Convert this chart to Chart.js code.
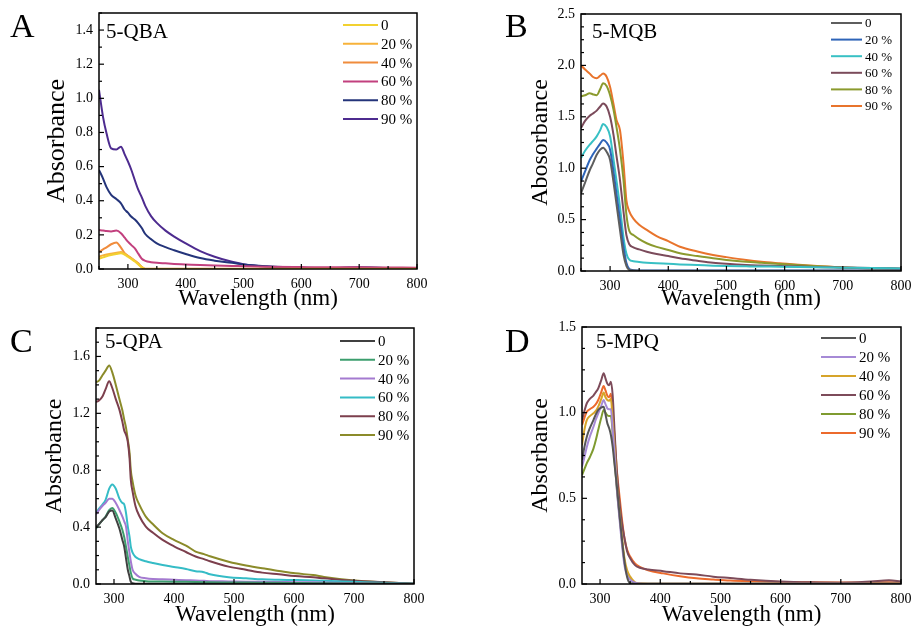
<!DOCTYPE html>
<html>
<head>
<meta charset="utf-8">
<script src="https://cdn.jsdelivr.net/npm/chart.js@4.4.1/dist/chart.umd.min.js"></script>
<style>
  html, body { margin: 0; padding: 0; background: #fff; }
  .panel { position: absolute; }
</style>
</head>
<body>
<div class="panel" style="left:0;top:0;width:456px;height:315px"><canvas id="chartA"></canvas></div>
<div class="panel" style="left:456px;top:0;width:457px;height:315px"><canvas id="chartB"></canvas></div>
<div class="panel" style="left:0;top:315px;width:456px;height:315px"><canvas id="chartC"></canvas></div>
<div class="panel" style="left:456px;top:315px;width:457px;height:315px"><canvas id="chartD"></canvas></div>
<script>
const FONT = "'Liberation Serif', 'Times New Roman', serif";
const seriesLabels = ['0', '20 %', '40 %', '60 %', '80 %', '90 %'];

/* ---------- A : 5-QBA ---------- */
const wlA = [250, 257, 263, 271, 280, 288, 294, 300, 306, 312, 318, 324, 330, 340, 350, 365, 380, 400, 425, 450, 480, 500, 540, 600, 650, 700, 750, 800];
const a0  = [0.06, 0.068, 0.075, 0.082, 0.088, 0.092, 0.085, 0.072, 0.058, 0.044, 0.027, 0.01, 0, 0, 0, 0, 0, 0, 0, 0, 0, 0, 0, 0, 0, 0, 0, 0];
const a20 = [0.072, 0.08, 0.085, 0.09, 0.095, 0.1, 0.09, 0.077, 0.063, 0.048, 0.03, 0.012, 0, 0, 0, 0, 0, 0, 0, 0, 0, 0, 0, 0, 0, 0, 0, 0];
const a40 = [0.1, 0.115, 0.127, 0.145, 0.155, 0.125, 0.095, 0.078, 0.063, 0.048, 0.033, 0.012, 0.001, 0.001, 0.001, 0.001, 0.001, 0.001, 0.001, 0.001, 0.001, 0.001, 0.001, 0.001, 0.001, 0.001, 0.001, 0.001];
const a60 = [0.228, 0.225, 0.222, 0.22, 0.225, 0.21, 0.185, 0.16, 0.14, 0.121, 0.09, 0.06, 0.048, 0.04, 0.036, 0.033, 0.03, 0.027, 0.023, 0.02, 0.018, 0.016, 0.013, 0.011, 0.01, 0.01, 0.009, 0.008];
const a80 = [0.58, 0.53, 0.48, 0.435, 0.41, 0.385, 0.35, 0.33, 0.306, 0.29, 0.268, 0.24, 0.205, 0.175, 0.15, 0.128, 0.11, 0.088, 0.064, 0.049, 0.036, 0.026, 0.016, 0.008, 0.006, 0.008, 0.006, 0.005];
const a90 = [1.05, 0.89, 0.795, 0.707, 0.70, 0.717, 0.675, 0.63, 0.58, 0.52, 0.463, 0.42, 0.37, 0.31, 0.27, 0.225, 0.19, 0.15, 0.105, 0.072, 0.042, 0.028, 0.014, 0.008, 0.006, 0.01, 0.006, 0.005];
const xTicksA = [300, 400, 500, 600, 700, 800];
const yTicksA = [0, 0.2, 0.4, 0.6, 0.8, 1.0, 1.2, 1.4];
const colorsA = ['#f2d130', '#f7b23a', '#f08c3c', '#c2407e', '#24347a', '#4d2b8f'];

/* ---------- B : 5-MQB ---------- */
const wlB = [250, 257, 265, 270, 277, 283, 288, 294, 300, 306, 311, 317, 323, 328, 333, 340, 350, 363, 380, 400, 420, 450, 477, 500, 534, 560, 592, 650, 700, 750, 800];
const b0  = [0.756, 0.86, 0.98, 1.04, 1.13, 1.18, 1.2, 1.16, 1.08, 0.86, 0.65, 0.40, 0.16, 0.05, 0.01, 0.005, 0.003, 0.003, 0.003, 0.003, 0.003, 0.003, 0.003, 0.003, 0.003, 0.003, 0.003, 0.003, 0.003, 0.003, 0.003];
const b20 = [0.87, 0.97, 1.08, 1.13, 1.19, 1.24, 1.274, 1.25, 1.18, 0.96, 0.75, 0.50, 0.24, 0.08, 0.02, 0.008, 0.005, 0.005, 0.005, 0.005, 0.005, 0.005, 0.005, 0.005, 0.005, 0.005, 0.005, 0.005, 0.005, 0.005, 0.005];
const b40 = [1.10, 1.17, 1.23, 1.26, 1.31, 1.37, 1.43, 1.40, 1.31, 1.08, 0.88, 0.625, 0.33, 0.17, 0.11, 0.095, 0.088, 0.081, 0.075, 0.07, 0.064, 0.058, 0.052, 0.048, 0.045, 0.043, 0.042, 0.036, 0.032, 0.028, 0.025];
const b60 = [1.39, 1.46, 1.51, 1.53, 1.56, 1.6, 1.63, 1.6, 1.5, 1.32, 1.12, 0.885, 0.58, 0.35, 0.26, 0.23, 0.21, 0.188, 0.165, 0.145, 0.123, 0.1, 0.081, 0.07, 0.058, 0.053, 0.048, 0.04, 0.033, 0.028, 0.025];
const b80 = [1.70, 1.71, 1.73, 1.72, 1.71, 1.77, 1.826, 1.80, 1.71, 1.566, 1.40, 1.18, 0.885, 0.55, 0.39, 0.35, 0.31, 0.27, 0.235, 0.205, 0.172, 0.145, 0.123, 0.108, 0.09, 0.08, 0.068, 0.048, 0.035, 0.025, 0.02];
const b90 = [2.0, 1.96, 1.92, 1.89, 1.875, 1.9, 1.92, 1.89, 1.79, 1.62, 1.47, 1.37, 1.05, 0.69, 0.58, 0.51, 0.45, 0.40, 0.34, 0.29, 0.236, 0.19, 0.156, 0.135, 0.107, 0.09, 0.075, 0.05, 0.035, 0.025, 0.02];
const xTicksB = [300, 400, 500, 600, 700, 800];
const yTicksB = [0, 0.5, 1.0, 1.5, 2.0, 2.5];
const colorsB = ['#5e5e5e', '#2e64b8', '#38c0c4', '#7b4b5b', '#8b9a2e', '#e8742c'];

/* ---------- C : 5-QPA ---------- */
const wlC = [270, 275, 281, 286, 292, 297, 303, 309, 314, 317, 320, 323, 326, 328, 331, 336, 342, 353, 365, 381, 400, 420, 436, 450, 460, 491, 520, 547, 575, 602, 632, 650, 700, 750, 800];
const c0  = [0.40, 0.42, 0.45, 0.47, 0.51, 0.517, 0.46, 0.39, 0.31, 0.263, 0.18, 0.1, 0.05, 0.016, 0.005, 0.002, 0.002, 0.002, 0.002, 0.002, 0.002, 0.002, 0.002, 0.002, 0.002, 0.002, 0.002, 0.002, 0.002, 0.002, 0.002, 0.002, 0.002, 0.002, 0.002];
const c20 = [0.39, 0.42, 0.45, 0.474, 0.52, 0.535, 0.5, 0.44, 0.38, 0.33, 0.263, 0.19, 0.122, 0.08, 0.04, 0.03, 0.024, 0.02, 0.018, 0.017, 0.016, 0.015, 0.014, 0.013, 0.012, 0.011, 0.01, 0.009, 0.008, 0.007, 0.006, 0.005, 0.004, 0.003, 0.002];
const c40 = [0.49, 0.52, 0.55, 0.57, 0.6, 0.6, 0.57, 0.52, 0.474, 0.44, 0.404, 0.3, 0.216, 0.16, 0.10, 0.07, 0.05, 0.04, 0.035, 0.033, 0.03, 0.027, 0.024, 0.022, 0.02, 0.018, 0.016, 0.015, 0.014, 0.013, 0.012, 0.01, 0.007, 0.004, 0.002];
const c60 = [0.50, 0.53, 0.56, 0.592, 0.67, 0.70, 0.67, 0.60, 0.57, 0.56, 0.50, 0.404, 0.33, 0.263, 0.22, 0.19, 0.175, 0.16, 0.148, 0.134, 0.12, 0.105, 0.09, 0.083, 0.068, 0.047, 0.04, 0.033, 0.03, 0.028, 0.025, 0.022, 0.015, 0.008, 0.002];
const c80 = [1.28, 1.29, 1.32, 1.37, 1.426, 1.38, 1.30, 1.226, 1.14, 1.08, 1.05, 1.0, 0.88, 0.733, 0.65, 0.545, 0.48, 0.404, 0.36, 0.31, 0.265, 0.225, 0.193, 0.175, 0.16, 0.122, 0.10, 0.08, 0.068, 0.056, 0.047, 0.04, 0.022, 0.012, 0.002];
const c90 = [1.42, 1.43, 1.47, 1.50, 1.536, 1.49, 1.40, 1.30, 1.22, 1.156, 1.10, 1.015, 0.92, 0.80, 0.72, 0.62, 0.56, 0.474, 0.42, 0.357, 0.31, 0.27, 0.228, 0.21, 0.195, 0.157, 0.13, 0.11, 0.092, 0.075, 0.063, 0.05, 0.025, 0.012, 0.002];
const xTicksC = [300, 400, 500, 600, 700, 800];
const yTicksC = [0, 0.4, 0.8, 1.2, 1.6];
const colorsC = ['#404040', '#3c9e6e', '#a47ad0', '#35bcc6', '#7c3f4d', '#8b8b2a'];

/* ---------- D : 5-MPQ ---------- */
const wlD = [270, 274, 278, 283, 289, 293, 297, 302, 306, 309, 312, 315, 318, 321, 324, 328, 333, 337, 341, 345, 350, 358, 366, 380, 405, 433, 460, 488, 516, 550, 600, 650, 700, 750, 780, 800];
const d0  = [0.724, 0.8, 0.86, 0.91, 0.957, 0.99, 1.016, 1.03, 1.035, 0.99, 0.94, 0.91, 0.87, 0.80, 0.70, 0.568, 0.38, 0.24, 0.12, 0.04, 0.005, 0.002, 0.002, 0.002, 0.002, 0.002, 0.002, 0.002, 0.002, 0.002, 0.002, 0.002, 0.002, 0.002, 0.002, 0.002];
const d20 = [0.685, 0.74, 0.80, 0.86, 0.918, 0.96, 0.996, 1.04, 1.074, 1.05, 1.025, 1.02, 1.02, 0.9, 0.763, 0.55, 0.354, 0.21, 0.10, 0.05, 0.025, 0.008, 0.003, 0.002, 0.002, 0.002, 0.002, 0.002, 0.002, 0.002, 0.002, 0.002, 0.002, 0.002, 0.002, 0.002];
const d40 = [0.81, 0.9, 0.957, 0.98, 0.996, 1.01, 1.035, 1.08, 1.117, 1.09, 1.074, 1.07, 1.08, 0.95, 0.80, 0.58, 0.393, 0.25, 0.14, 0.08, 0.043, 0.01, 0.004, 0.002, 0.002, 0.002, 0.002, 0.002, 0.002, 0.002, 0.002, 0.002, 0.002, 0.002, 0.002, 0.002];
const d60 = [0.957, 1.01, 1.055, 1.08, 1.10, 1.12, 1.142, 1.19, 1.23, 1.20, 1.17, 1.16, 1.18, 1.10, 0.90, 0.65, 0.45, 0.34, 0.26, 0.19, 0.15, 0.11, 0.095, 0.085, 0.075, 0.062, 0.055, 0.043, 0.035, 0.025, 0.015, 0.01, 0.008, 0.015, 0.022, 0.015];
const d80 = [0.636, 0.67, 0.705, 0.74, 0.79, 0.84, 0.9, 0.97, 1.016, 1.0, 0.985, 0.98, 0.98, 0.88, 0.724, 0.55, 0.374, 0.23, 0.12, 0.06, 0.03, 0.005, 0.002, 0.002, 0.002, 0.002, 0.002, 0.002, 0.002, 0.002, 0.002, 0.002, 0.002, 0.002, 0.002, 0.002];
const d90 = [0.928, 0.97, 1.006, 1.02, 1.035, 1.05, 1.074, 1.12, 1.156, 1.13, 1.10, 1.09, 1.11, 1.0, 0.86, 0.66, 0.49, 0.36, 0.257, 0.2, 0.16, 0.12, 0.1, 0.08, 0.062, 0.045, 0.033, 0.026, 0.02, 0.016, 0.012, 0.01, 0.009, 0.009, 0.01, 0.009];
const xTicksD = [300, 400, 500, 600, 700, 800];
const yTicksD = [0, 0.5, 1.0, 1.5];
const colorsD = ['#555555', '#a68ad6', '#d6a42a', '#7d4b5a', '#7f9b30', '#ec6a2c'];

/* =========================
   frame, inward ticks, legend, titles
========================= */
const decoPlugin = {
  id: 'deco',
  afterDatasetsDraw(chart, args, o) {
    const { ctx, chartArea: a, scales: { x, y } } = chart;
    ctx.save();
    ctx.strokeStyle = '#000';
    ctx.lineWidth = 1.5;
    ctx.strokeRect(a.left, a.top, a.right - a.left, a.bottom - a.top);

    // y ticks on the left edge, pointing in
    ctx.lineWidth = 1.2;
    const ny = Math.round((y.max - y.min) / o.yMinor);
    for (let i = 0; i <= ny; i++) {
      const v = y.min + i * o.yMinor;
      const major = Math.abs(v / o.yMajor - Math.round(v / o.yMajor)) < 1e-6;
      const py = y.getPixelForValue(v);
      ctx.beginPath();
      ctx.moveTo(a.left, py);
      ctx.lineTo(a.left + (major ? 5 : 3), py);
      ctx.stroke();
    }
    // x ticks on the bottom edge, pointing in
    for (let v = Math.ceil(x.min / 50) * 50; v <= x.max; v += 50) {
      const major = v % 100 === 0;
      const px = x.getPixelForValue(v);
      ctx.beginPath();
      ctx.moveTo(px, a.bottom);
      ctx.lineTo(px, a.bottom - (major ? 5 : 3));
      ctx.stroke();
    }

    // legend
    const lg = o.legend;
    ctx.font = lg.size + 'px ' + FONT;
    ctx.textBaseline = 'middle';
    ctx.textAlign = 'left';
    chart.data.datasets.forEach((ds, i) => {
      const ry = a.top + lg.dy + i * lg.gap;
      ctx.strokeStyle = ds.borderColor;
      ctx.lineWidth = 2;
      ctx.beginPath();
      ctx.moveTo(a.right - lg.x1, ry);
      ctx.lineTo(a.right - lg.x2, ry);
      ctx.stroke();
      ctx.fillStyle = '#000';
      ctx.fillText(ds.label, a.right - lg.x2 + 3, ry + 1);
    });

    // sample name inside the frame
    ctx.font = '21px ' + FONT;
    ctx.fillText(o.name, a.left + o.nameDx, a.top + o.nameDy);

    // panel letter
    ctx.font = '34px ' + FONT;
    ctx.fillText(o.letter, o.letterX, o.letterY);
    ctx.restore();
  }
};

function makePanel(id, p) {
  new Chart(document.getElementById(id), {
    type: 'line',
    data: {
      datasets: p.series.map((s, i) => ({
        label: seriesLabels[i],
        data: p.wl.map((w, j) => ({ x: w, y: s[j] })),
        borderColor: p.colors[i],
        borderWidth: 2,
        pointRadius: 0,
        cubicInterpolationMode: 'monotone',
        fill: false
      }))
    },
    options: {
      responsive: true,
      maintainAspectRatio: false,
      animation: false,
      events: [],
      layout: { padding: { left: 0, top: p.padTop, right: p.padRight, bottom: 0 } },
      plugins: {
        legend: { display: false },
        tooltip: { enabled: false },
        deco: p.deco
      },
      scales: {
        x: {
          type: 'linear',
          min: p.xMin, max: 800,
          afterBuildTicks: s => { s.ticks = p.xTicks.map(v => ({ value: v })); },
          afterFit: s => { s.height = p.xHeight; s.paddingLeft = 0; s.paddingRight = 0; },
          grid: { display: false, drawTicks: false },
          border: { display: false },
          ticks: { color: '#000', padding: 7, maxRotation: 0, font: { family: FONT, size: 14 } },
          title: {
            display: true, text: 'Wavelength (nm)', color: '#000',
            font: { family: FONT, size: 23 }, padding: { top: 0, bottom: p.xTitlePad }
          }
        },
        y: {
          min: 0, max: p.yMax,
          afterBuildTicks: s => { s.ticks = p.yTicks.map(v => ({ value: v })); },
          afterFit: s => { s.width = p.yWidth; s.paddingTop = 0; s.paddingBottom = 0; },
          grid: { display: false, drawTicks: false },
          border: { display: false },
          ticks: { color: '#000', padding: 6, font: { family: FONT, size: 14 }, callback: v => v.toFixed(1) },
          title: {
            display: true, text: p.yTitle, color: '#000',
            font: { family: FONT, size: p.yTitleSize }, padding: { top: p.yTitlePad, bottom: 0 }
          }
        }
      }
    },
    plugins: [decoPlugin]
  });
}

makePanel('chartA', {
  wl: wlA, series: [a0, a20, a40, a60, a80, a90], colors: colorsA,
  xMin: 250, yMax: 1.5, xTicks: xTicksA, yTicks: yTicksA,
  padTop: 13, padRight: 39, xHeight: 46, yWidth: 99, xTitlePad: 2,
  yTitle: 'Absorbance', yTitleSize: 26, yTitlePad: 42,
  deco: { yMajor: 0.2, yMinor: 0.1, name: '5-QBA', nameDx: 7, nameDy: 19, letter: 'A', letterX: 10, letterY: 28,
          legend: { x1: 74, x2: 39, dy: 12, gap: 18.8, size: 15 } }
});

makePanel('chartB', {
  wl: wlB, series: [b0, b20, b40, b60, b80, b90], colors: colorsB,
  xMin: 250, yMax: 2.5, xTicks: xTicksB, yTicks: yTicksB,
  padTop: 14, padRight: 12, xHeight: 44, yWidth: 125, xTitlePad: 2,
  yTitle: 'Abosorbance', yTitleSize: 24, yTitlePad: 70,
  deco: { yMajor: 0.5, yMinor: 0.125, name: '5-MQB', nameDx: 11, nameDy: 18, letter: 'B', letterX: 49, letterY: 28,
          legend: { x1: 70, x2: 39, dy: 9, gap: 16.6, size: 13 } }
});

makePanel('chartC', {
  wl: wlC, series: [c0, c20, c40, c60, c80, c90], colors: colorsC,
  xMin: 270, yMax: 1.8, xTicks: xTicksC, yTicks: yTicksC,
  padTop: 13, padRight: 42, xHeight: 46, yWidth: 96, xTitlePad: 1,
  yTitle: 'Absorbance', yTitleSize: 24, yTitlePad: 40,
  deco: { yMajor: 0.4, yMinor: 0.1, name: '5-QPA', nameDx: 9, nameDy: 14, letter: 'C', letterX: 10, letterY: 28,
          legend: { x1: 74, x2: 39, dy: 13, gap: 18.8, size: 15 } }
});

makePanel('chartD', {
  wl: wlD, series: [d0, d20, d40, d60, d80, d90], colors: colorsD,
  xMin: 270, yMax: 1.5, xTicks: xTicksD, yTicks: yTicksD,
  padTop: 12, padRight: 12, xHeight: 46, yWidth: 126, xTitlePad: 1,
  yTitle: 'Absorbance', yTitleSize: 24, yTitlePad: 70,
  deco: { yMajor: 0.5, yMinor: 0.125, name: '5-MPQ', nameDx: 14, nameDy: 15, letter: 'D', letterX: 49, letterY: 28,
          legend: { x1: 80, x2: 45, dy: 11, gap: 19, size: 15 } }
});
</script>
</body>
</html>
